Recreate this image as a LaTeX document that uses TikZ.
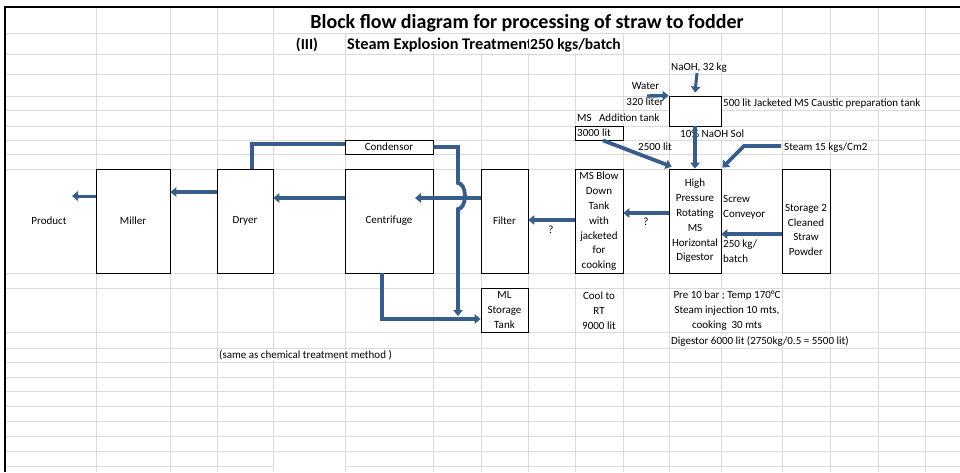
\documentclass[tikz,border=0pt]{standalone}
\usepackage{fontspec}
\setmainfont{Carlito}
\usetikzlibrary{arrows.meta}
\definecolor{flowblue}{RGB}{56,93,138}
\definecolor{gridgray}{RGB}{218,218,218}

\tikzset{
  cell/.style={font=\fontsize{11}{14.8}\selectfont, inner sep=0pt, text height=8.5pt, text depth=2pt},
  lines/.style={font=\fontsize{11}{14.8}\selectfont, inner sep=0pt, align=center},
  spill/.style={cell, fill=white, inner xsep=1pt},
  unit/.style={draw=black, line width=0.8pt, fill=white, inner sep=0pt, font=\fontsize{11}{14.8}\selectfont, align=center},
  pipe/.style={draw=flowblue, line width=3.8pt},
  feed/.style={pipe, -{Triangle[length=6pt,width=9.5pt]}},
  heading/.style={font=\fontsize{#1}{#1}\selectfont\bfseries, inner sep=0pt, anchor=base},
}

\begin{document}
\begin{tikzpicture}[x=1pt,y=-1pt]
\useasboundingbox (0,0) rectangle (960,472);

\foreach \y in {33,54,74,96,110,126,140,154,169,273,288,332,348,362,377,391,406,421,436,451}
  \draw[gridgray, line width=0.8pt] (5,\y) -- (960,\y);
\draw[gridgray, line width=0.8pt] (5,466) -- (273,466) (345,466) -- (960,466);
\foreach \x in {96,170,217,273,782,830,878,925}
  \draw[gridgray, line width=0.8pt] (\x,7) -- (\x,472);
\foreach \x in {345,433,481,528,575,623,669,721}
  \draw[gridgray, line width=0.8pt] (\x,33) -- (\x,472);
\fill[white] (346,34) rectangle (622,53);
\fill[white] (670,289) rectangle (781,331);
\draw[line width=1.2pt] (5,472) -- (5,7) -- (960,7);

\node[heading=20] (title) at (527,28) {Block flow diagram for processing of straw to fodder};
\node[heading=15.5] (part) at (307,49) {(III)};
\begin{scope}
\clip (345,33) rectangle (528,54);
\node[heading=16.3, anchor=base west] (method) at (347,49) {Steam Explosion Treatment};
\end{scope}
\node[heading=15.5, anchor=base west] (batch) at (530,49) {250 kgs/batch};

\node[cell] (product) at (49,221) {Product};
\node[unit, minimum width=74, minimum height=104] (miller) at (133,221) {Miller};
\node[unit, minimum width=56, minimum height=104] (dryer) at (245,221) {Dryer};
\node[unit, minimum width=88, minimum height=104] (centrifuge) at (389,221) {Centrifuge};
\node[unit, minimum width=88, minimum height=14] (condensor) at (389,147) {Condensor};
\node[unit, minimum width=47, minimum height=104] (filter) at (504.5,221) {Filter};
\node[unit, minimum width=47, minimum height=44] (mlstore) at (504.5,310) {ML\\Storage\\Tank};
\node[unit, minimum width=48, minimum height=104] (blowdown) at (599,221.5) {MS Blow\\Down\\Tank\\with\\jacketed\\for\\cooking};
\node[unit, minimum width=52, minimum height=104] (digestor) at (695,221) {High\\Pressure\\Rotating\\MS\\Horizontal\\Digestor};
\node[unit, minimum width=48, minimum height=104] (storage) at (806,221) {};
\node[lines] (storagetext) at (806,230) {Storage 2\\Cleaned\\Straw\\Powder};
\node[unit, minimum width=48, minimum height=14] (addtank) at (599,133) {};
\node[cell, anchor=west] (addvol) at (577,133) {3000 lit};
\node[unit, minimum width=52, minimum height=30] (caustic) at (695,111) {};

\node[cell] (q1) at (551,230) {?};
\node[cell] (q2) at (646,222) {?};
\node[lines, anchor=west, align=left] (screw) at (723,207.5) {Screw\\Conveyor};
\node[lines, anchor=west, align=left] (rate) at (723,251) {250 kg/\\batch};
\node[lines] (cool) at (599,310.5) {Cool to\\RT\\9000 lit};
\node[lines] (cond) at (727,310.5) {Pre 10 bar ; Temp 170°C\\Steam injection 10 mts,\\cooking\ \ 30 mts};
\node[spill, anchor=west] (volume) at (670,341) {Digestor 6000 lit (2750kg/0.5 = 5500 lit)};
\node[spill, anchor=west] (note) at (218,355) {(same as chemical treatment method )};
\node[spill] (naoh) at (699,67) {NaOH, 32 kg};
\node[cell] (water) at (645.5,86) {Water};
\node[cell] (watervol) at (645,102) {320 liter};
\node[spill, anchor=west] (tanknote) at (722,103) {500 lit Jacketed MS Caustic preparation tank};
\node[spill, anchor=west] (addnote) at (576,118) {MS\ \ \ Addition tank};
\node[spill, anchor=west] (solnote) at (679,134) {10\% NaOH Sol};
\node[cell, anchor=west] (feednote) at (638,147) {2500 lit};
\node[spill, anchor=west] (steamnote) at (783,147) {Steam 15 kgs/Cm2};

\coordinate (prodin) at (72,196);
\coordinate (centin) at (415,198);
\coordinate (waterin) at (647,96);
\coordinate (naohin) at (697,73);
\coordinate (steamin) at (781,146);
\coordinate (mljoin) at (458,316);

\draw[feed, line width=3pt] (miller.west |- prodin) -- (prodin);
\draw[feed] (dryer.west |- 0,192) -- (miller.east |- 0,192);
\draw[feed] (centrifuge.west |- 0,198) -- (dryer.east |- 0,198);
\draw[pipe] (condensor.west |- 0,144) -| (dryer.north -| 252,0);
\draw[feed] (condensor.east) -| (458,183) arc[start angle=-90, end angle=90, x radius=7, y radius=13] -- (mljoin);
\draw[feed] (centrifuge.south -| 382,0) |- (mlstore.west |- 0,319);
\draw[feed] (filter.west |- centin) -- (centin);
\draw[feed] (blowdown.west |- 0,220) -- (filter.east |- 0,220);
\draw[feed] (digestor.west |- 0,213) -- (blowdown.east |- 0,213);
\draw[feed, line width=4.5pt] (storage.west |- 0,234) -- (digestor.east |- 0,234);
\draw[feed] (caustic.south) -- (digestor.north);
\draw[feed] ([xshift=4pt]addtank.south) -- ([shift={(3pt,2pt)}]digestor.north west);
\draw[feed] (steamin) -- (744,146) -- ([shift={(1pt,1pt)}]digestor.north east);
\draw[feed, line width=3.4pt] (waterin) -- (caustic.north west);
\draw[feed, line width=3pt] (naohin) -- ([yshift=3pt]caustic.north);
\end{tikzpicture}
\end{document}
